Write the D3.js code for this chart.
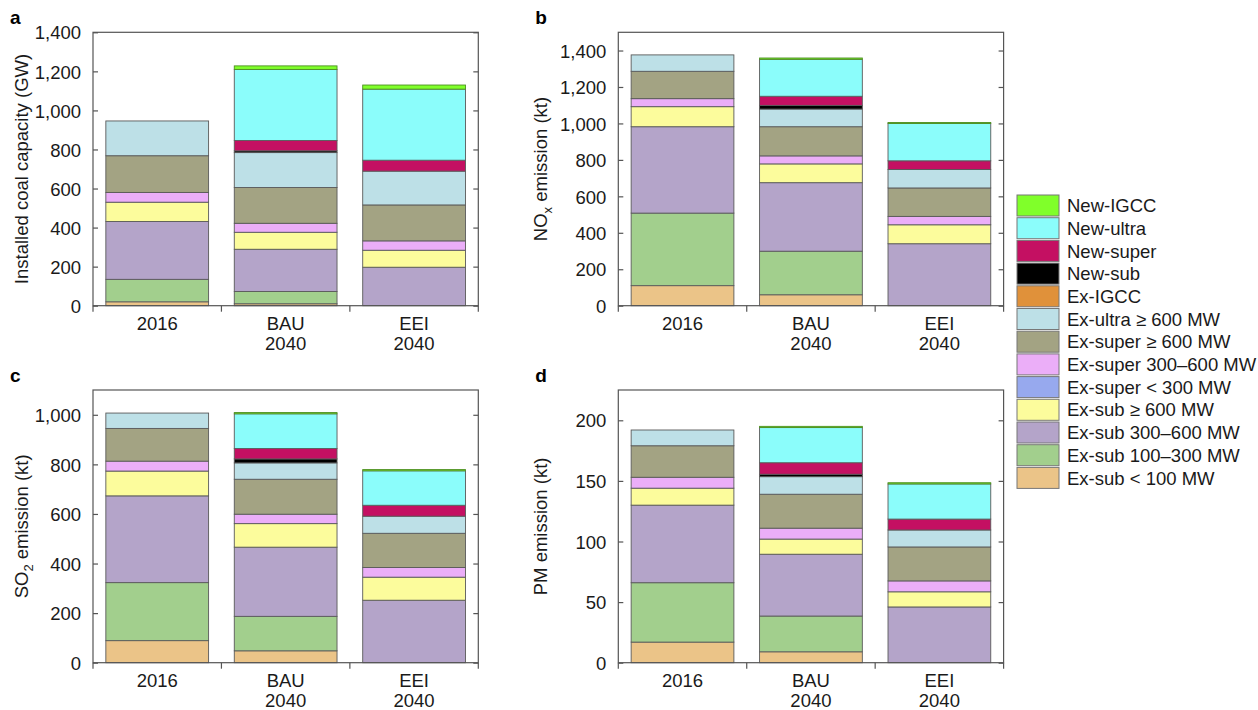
<!DOCTYPE html>
<html>
<head>
<meta charset="utf-8">
<script src="https://cdn.jsdelivr.net/npm/d3@7"></script>
<style>
  html, body { margin: 0; padding: 0; background: #fff; }
  svg { display: block; font-family: "Liberation Sans", Arial, sans-serif; }
</style>
</head>
<body>
<svg id="chart" width="1258" height="710"></svg>
<script>
// Stack order, bottom to top
const seriesNames = [
  "Ex-sub < 100 MW", "Ex-sub 100–300 MW", "Ex-sub 300–600 MW", "Ex-sub ≥ 600 MW",
  "Ex-super < 300 MW", "Ex-super 300–600 MW", "Ex-super ≥ 600 MW", "Ex-ultra ≥ 600 MW",
  "Ex-IGCC", "New-sub", "New-super", "New-ultra", "New-IGCC"
];
const seriesColors = [
  "#ebc488", "#a2cf8d", "#b4a4c9", "#fcfc9c",
  "#97a9ee", "#ebaef8", "#a3a383", "#bde0e7",
  "#e0913a", "#000000", "#c41062", "#8bfdfb", "#80ff2a"
];
const categories = ["2016", "BAU 2040", "EEI 2040"];

// a: installed coal capacity (GW)
const capacity2016 = [20, 115, 296, 99, 0, 50, 188, 178, 0, 0, 0, 0, 0];
const capacityBAU  = [10, 63, 216, 87, 0, 46, 183, 179, 0, 9, 53, 364, 18];
const capacityEEI  = [0, 0, 197, 87, 0, 48, 184, 173, 0, 0, 56, 364, 21];

// b: NOx emission (kt)
const nox2016 = [110, 398, 474, 110, 0, 44, 150, 90, 0, 0, 0, 0, 0];
const noxBAU  = [60, 239, 376, 103, 0, 44, 160, 97, 0, 20, 50, 203, 7];
const noxEEI  = [0, 0, 340, 104, 0, 46, 156, 101, 0, 0, 48, 205, 5];

// c: SO2 emission (kt)
const so22016 = [89, 234, 350, 100, 0, 40, 132, 62, 0, 0, 0, 0, 0];
const so2BAU  = [48, 139, 279, 95, 0, 38, 141, 66, 0, 16, 42, 140, 5];
const so2EEI  = [0, 0, 252, 93, 0, 39, 138, 69, 0, 0, 44, 139, 5];

// d: PM emission (kt)
const pm2016 = [17, 49, 64, 14, 0, 9, 26, 13, 0, 0, 0, 0, 0];
const pmBAU  = [9, 29.5, 51, 12.5, 0, 9, 28, 14.5, 0, 2, 9.5, 29, 1];
const pmEEI  = [0, 0, 46, 12.5, 0, 9, 28, 14, 0, 0, 9, 29, 1];

const yTicksA = [0, 200, 400, 600, 800, 1000, 1200, 1400];
const yTicksB = [0, 200, 400, 600, 800, 1000, 1200, 1400];
const yTicksC = [0, 200, 400, 600, 800, 1000];
const yTicksD = [0, 50, 100, 150, 200];

const panels = [
  { letter: "a", data: [capacity2016, capacityBAU, capacityEEI], max: 1400, ticks: yTicksA,
    title: [["Installed coal capacity (GW)", null]],
    x0: 93, x1: 478.3, y0: 32.3, y1: 305.7, titleX: 28 },
  { letter: "b", data: [nox2016, noxBAU, noxEEI], max: 1500, ticks: yTicksB,
    title: [["NO", null], ["x", "sub"], [" emission (kt)", null]],
    x0: 618.3, x1: 1003.6, y0: 32.3, y1: 305.7, titleX: 547 },
  { letter: "c", data: [so22016, so2BAU, so2EEI], max: 1100, ticks: yTicksC,
    title: [["SO", null], ["2", "sub"], [" emission (kt)", null]],
    x0: 93, x1: 478.3, y0: 390, y1: 662.7, titleX: 28 },
  { letter: "d", data: [pm2016, pmBAU, pmEEI], max: 225, ticks: yTicksD,
    title: [["PM emission (kt)", null]],
    x0: 618.3, x1: 1003.6, y0: 390, y1: 662.7, titleX: 547 }
];

const svg = d3.select("#chart");
const frameColor = "#555";
const textColor = "#1a1a1a";
const fontSize = "18.5px";

panels.forEach(p => {
  const g = svg.append("g");
  const x = d3.scaleBand().domain(categories).range([p.x0, p.x1])
    .paddingInner(0.2).paddingOuter(0.1);
  const y = d3.scaleLinear().domain([0, p.max]).range([p.y1, p.y0]);

  // stacked bars
  const rows = categories.map((c, i) => {
    const r = { cat: c };
    seriesNames.forEach((s, j) => { r[s] = p.data[i][j]; });
    return r;
  });
  const stacked = d3.stack().keys(seriesNames)(rows);
  stacked.forEach((layer, j) => {
    g.selectAll(null).data(layer.filter(d => d[1] - d[0] > 0)).join("rect")
      .attr("x", d => x(d.data.cat))
      .attr("width", x.bandwidth())
      .attr("y", d => y(d[1]))
      .attr("height", d => y(d[0]) - y(d[1]))
      .attr("fill", seriesColors[j])
      .attr("stroke", j === 12 ? "#4d8f22" : "#5a5a5a")
      .attr("stroke-width", 0.9);
  });

  // frame
  g.append("rect")
    .attr("x", p.x0).attr("y", p.y0)
    .attr("width", p.x1 - p.x0).attr("height", p.y1 - p.y0)
    .attr("fill", "none").attr("stroke", frameColor).attr("stroke-width", 1.2);

  // left axis, inward ticks
  const yAxis = d3.axisLeft(y).tickValues(p.ticks).tickFormat(d3.format(","))
    .tickSizeInner(-5).tickSizeOuter(0).tickPadding(12);
  const ay = g.append("g").attr("transform", `translate(${p.x0},0)`).call(yAxis);
  ay.select(".domain").remove();
  ay.selectAll(".tick line").attr("stroke", frameColor).attr("stroke-width", 1.2);
  ay.selectAll(".tick text").attr("fill", textColor)
    .style("font-size", fontSize).attr("dy", "0.36em");

  // mirrored inward ticks on the right edge
  const yAxisR = d3.axisRight(y).tickValues(p.ticks).tickFormat("")
    .tickSizeInner(-5).tickSizeOuter(0);
  const ayr = g.append("g").attr("transform", `translate(${p.x1},0)`).call(yAxisR);
  ayr.select(".domain").remove();
  ayr.selectAll(".tick line").attr("stroke", frameColor).attr("stroke-width", 1.2);

  // category separators on the bottom edge
  const step = x.step();
  const bounds = d3.range(categories.length + 1).map(i => p.x0 + i * step);
  g.selectAll(null).data(bounds).join("line")
    .attr("x1", d => d).attr("x2", d => d)
    .attr("y1", p.y1).attr("y2", p.y1 + 6)
    .attr("stroke", frameColor).attr("stroke-width", 1.2);

  // category labels
  categories.forEach(c => {
    const parts = c.split(" ");
    const t = g.append("text")
      .attr("x", x(c) + x.bandwidth() / 2)
      .attr("y", p.y1 + 24)
      .attr("text-anchor", "middle")
      .attr("fill", textColor)
      .style("font-size", fontSize);
    parts.forEach((s, k) => {
      t.append("tspan").attr("x", x(c) + x.bandwidth() / 2)
        .attr("dy", k === 0 ? 0 : 20).text(s);
    });
  });

  // y-axis title
  const ty = (p.y0 + p.y1) / 2;
  const title = g.append("text")
    .attr("transform", `translate(${p.titleX},${ty}) rotate(-90)`)
    .attr("text-anchor", "middle")
    .attr("fill", textColor)
    .style("font-size", fontSize);
  p.title.forEach(([s, kind]) => {
    const ts = title.append("tspan").text(s);
    if (kind === "sub") {
      ts.attr("dy", 5).style("font-size", "13px");
    } else if (title.selectAll("tspan").size() > 1) {
      ts.attr("dy", -5);
    }
  });

  // panel letter
  g.append("text")
    .attr("x", p.x0 - 83)
    .attr("y", p.y0 - 8)
    .attr("fill", "#000")
    .style("font-size", "19px").style("font-weight", "bold")
    .text(p.letter);
});

// legend, top entry first
const legend = svg.append("g").attr("transform", "translate(1017,195)");
const legendOrder = d3.range(seriesNames.length).reverse();
legendOrder.forEach((j, i) => {
  const row = legend.append("g").attr("transform", `translate(0,${i * 22.7})`);
  row.append("rect")
    .attr("x", 0).attr("y", 0).attr("width", 42).attr("height", 21)
    .attr("fill", seriesColors[j])
    .attr("stroke", "#777").attr("stroke-width", 1);
  row.append("text")
    .attr("x", 50).attr("y", 10.5).attr("dy", "0.36em")
    .attr("fill", textColor)
    .style("font-size", fontSize)
    .text(seriesNames[j]);
});
</script>
</body>
</html>
